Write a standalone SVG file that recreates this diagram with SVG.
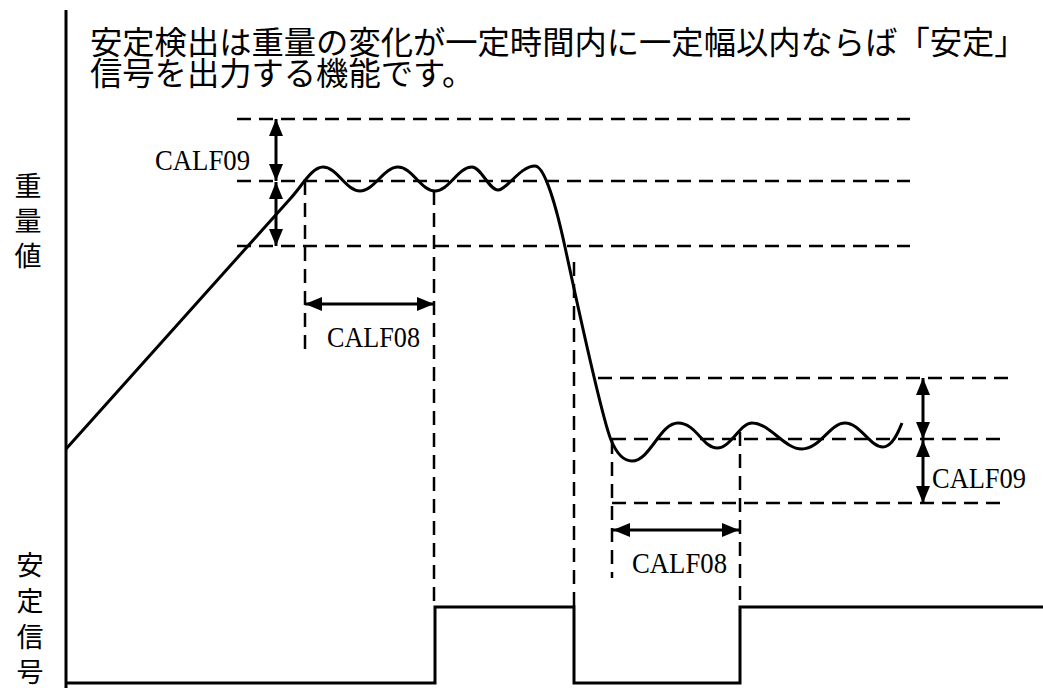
<svg xmlns="http://www.w3.org/2000/svg" width="1043" height="688" viewBox="0 0 1043 688">
<style>
.jp{font-family:"Noto Sans CJK JP","Noto Sans CJK SC",sans-serif;fill:#000}
.lbl{font-family:"Liberation Serif",serif;font-size:30px;fill:#000}
.solid{fill:none;stroke:#000;stroke-width:3}
.dash{fill:none;stroke:#000;stroke-width:2.5;stroke-dasharray:14 8}
.arr{fill:none;stroke:#000;stroke-width:3;marker-start:url(#ah);marker-end:url(#ah)}
</style>
<defs>
<marker id="ah" viewBox="0 0 17 14" refX="17" refY="7" markerWidth="17" markerHeight="14" markerUnits="userSpaceOnUse" orient="auto-start-reverse">
<path d="M0,0 L17,7 L0,14 z" fill="#000"/>
</marker>
</defs>
<rect width="1043" height="688" fill="#fff"/>
<g id="title">
<text class="jp" x="90" y="54" font-size="32.3">安定検出は重量の変化が一定時間内に一定幅以内ならば「安定」</text>
<text class="jp" x="90" y="85" font-size="32.3">信号を出力する機能です。</text>
</g>
<g id="axis-label-weight" class="jp" font-size="27" text-anchor="middle">
<text x="28" y="196">重</text>
<text x="28" y="231">量</text>
<text x="28" y="266">値</text>
</g>
<g id="axis-label-signal" class="jp" font-size="27" text-anchor="middle">
<text x="30" y="575">安</text>
<text x="30" y="611">定</text>
<text x="30" y="647">信</text>
<text x="30" y="682">号</text>
</g>
<g id="guides">
<path class="dash" d="M237 119 H910 M237 181 H910 M237 246 H910"/>
<path class="dash" d="M598 378 H1012 M612 439 H1000 M612 503 H1000"/>
<path class="dash" d="M305 181 V352 M434 191 V607 M574 262 V607 M612 440 V578 M740 432 V607"/>
</g>
<g id="axis">
<path class="solid" d="M66 10 V688"/>
</g>
<g id="weight-curve">
<path class="solid" d="M66 449 L290 199 C302 186 312 167 323 167 C337 167 346 191 360 191 C374 191 384 167 398 167 C412 167 421 191 435 191 C449 191 458 167 472 167 C481 167 489 190 498 190 C507 190 520 166 535 166 C545 166 557 210 565 247 C573 284 601 415 611 440 C616 452 622 461 632 461 C650 461 660 423 678 423 C696 423 703 448 717 448 C731 448 740 423 752 423 C770 423 784 449 802 449 C820 449 830 423 845 423 C860 423 870 447 883 447 C892 447 898 433 902 423"/>
</g>
<g id="stable-signal">
<path class="solid" d="M66 683 H435 V607 H574 V683 H740 V607 H1043"/>
</g>
<g id="connectors">
<path class="arr" d="M276 119 V181"/>
<path class="arr" d="M276 182 V246"/>
<path class="arr" d="M305 304 H434"/>
<path class="arr" d="M923 378 V439"/>
<path class="arr" d="M923 440 V503"/>
<path class="arr" d="M613 530 H739"/>
</g>
<g id="labels">
<text class="lbl" x="155" y="170" textLength="95" lengthAdjust="spacingAndGlyphs">CALF09</text>
<text class="lbl" x="327" y="347" textLength="93" lengthAdjust="spacingAndGlyphs">CALF08</text>
<text class="lbl" x="632" y="573" textLength="95" lengthAdjust="spacingAndGlyphs">CALF08</text>
<text class="lbl" x="932" y="488" textLength="94" lengthAdjust="spacingAndGlyphs">CALF09</text>
</g>
</svg>
